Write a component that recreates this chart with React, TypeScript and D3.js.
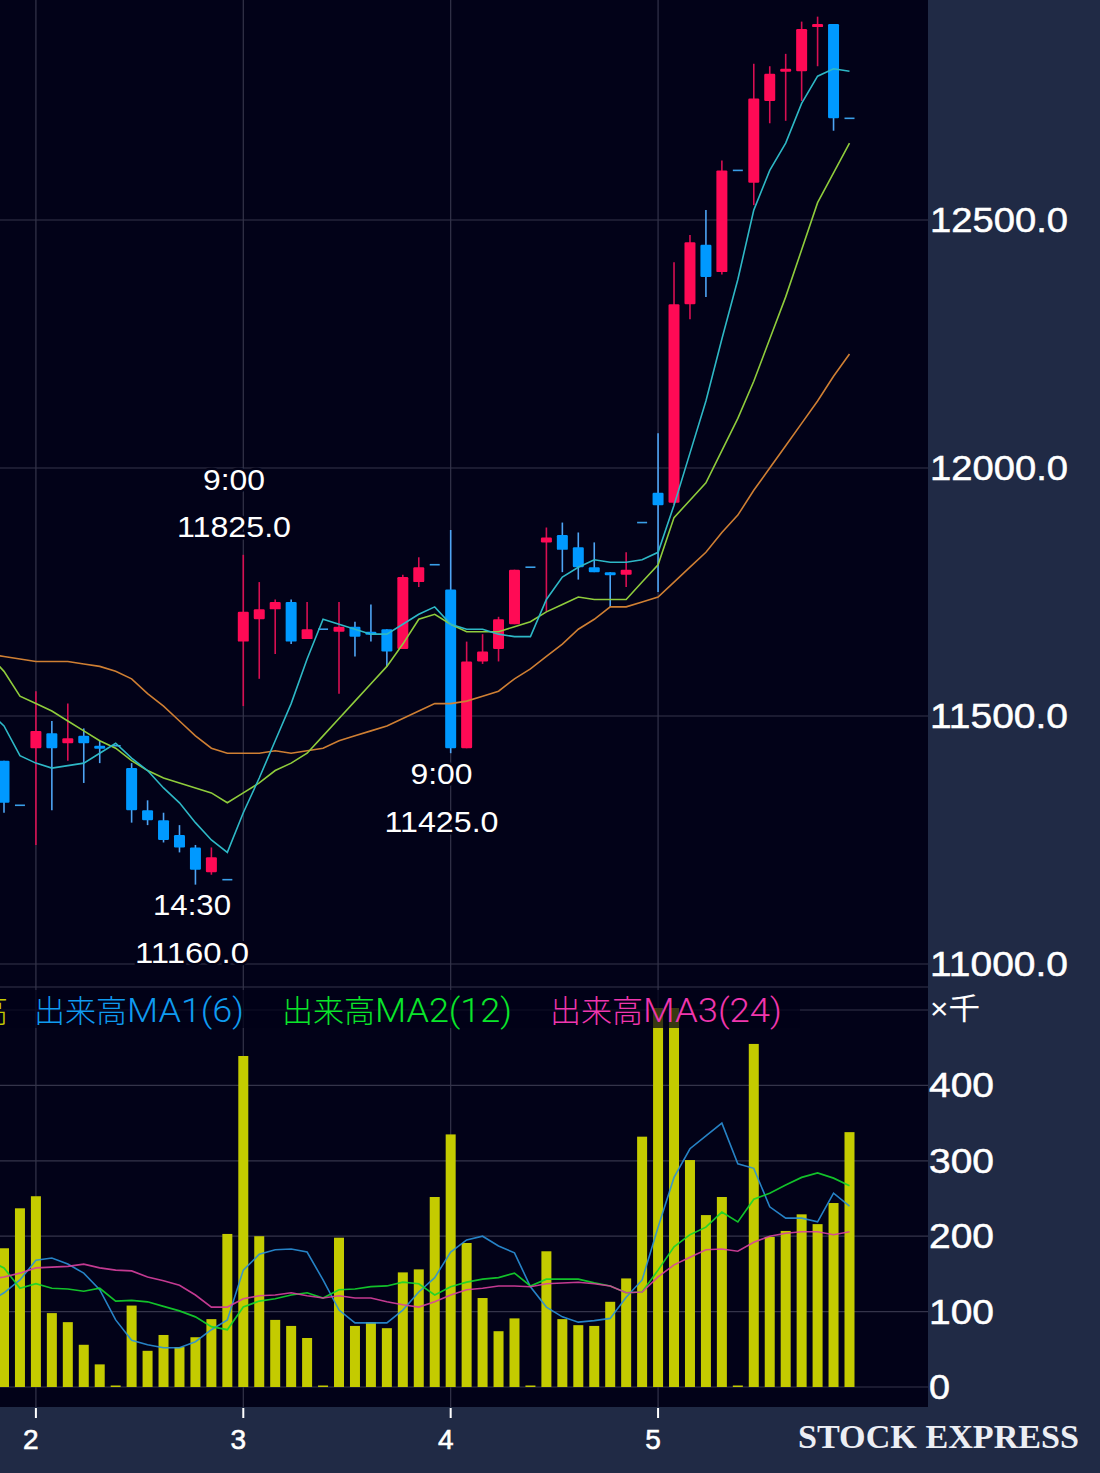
import React from "react";
import * as d3 from "d3";

const highs = [11410,11320,11550,11490,11525,11475,11450,11440,11405,11330,11305,11280,11240,11235,11170,11825,11770,11735,11735,11730,11675,11730,11690,11725,11675,11785,11820,11805,11875,11650,11665,11700,11795,11800,11880,11890,11870,11850,11790,11830,11890,12070,12415,12470,12520,12620,12600,12815,12810,12835,12900,12910,12895,12705];
const opens = [11410,11320,11435,11465,11445,11460,11440,11440,11395,11310,11290,11260,11235,11185,11170,11650,11695,11715,11730,11655,11675,11670,11680,11670,11675,11635,11770,11805,11755,11435,11610,11635,11685,11800,11850,11865,11840,11800,11790,11785,11890,11950,11930,12330,12450,12395,12600,12575,12740,12800,12800,12890,12895,12705];
const closes = [11325,11320,11470,11435,11455,11445,11435,11440,11310,11290,11250,11235,11190,11215,11170,11710,11715,11730,11650,11675,11675,11680,11660,11665,11630,11780,11800,11805,11435,11610,11630,11695,11795,11800,11860,11835,11800,11790,11785,11795,11890,11925,12330,12455,12385,12600,12600,12745,12795,12805,12885,12895,12705,12705];
const lows = [11305,11320,11240,11310,11410,11365,11405,11440,11285,11280,11245,11225,11160,11180,11170,11520,11575,11625,11645,11655,11675,11545,11620,11650,11600,11635,11760,11805,11425,11435,11605,11610,11685,11800,11710,11790,11775,11790,11720,11760,11890,11750,11925,12300,12345,12390,12600,12530,12695,12700,12740,12810,12680,12705];

// Moving averages start one session before the first visible candle (index -1).
const priceMA1 = [11510,11480,11420,11405,11395,11400,11405,11425,11445,11415,11390,11355,11325,11285,11250,11225,11305,11375,11450,11525,11615,11695,11685,11675,11665,11665,11685,11705,11720,11685,11675,11675,11665,11660,11660,11735,11780,11800,11815,11810,11810,11815,11830,11925,12030,12135,12260,12380,12520,12600,12655,12735,12790,12805,12800];
const priceMA2 = [11625,11590,11540,11525,11510,11490,11470,11450,11435,11410,11390,11375,11365,11355,11345,11325,11345,11365,11390,11405,11425,11460,11495,11530,11565,11600,11645,11695,11705,11685,11670,11670,11670,11680,11690,11710,11725,11740,11735,11735,11735,11770,11805,11900,11935,11970,12035,12100,12175,12260,12345,12440,12535,12595,12655];
const priceMA3 = [11625,11620,11615,11610,11610,11610,11605,11600,11590,11575,11545,11520,11490,11460,11435,11425,11425,11425,11430,11425,11430,11435,11450,11460,11470,11480,11495,11510,11525,11525,11530,11540,11550,11575,11595,11620,11645,11675,11695,11720,11720,11730,11740,11770,11800,11830,11870,11905,11955,12000,12045,12090,12135,12185,12230];

const volumes = [184,237,253,98,86,56,30,2,108,48,69,53,66,90,203,439,200,89,81,65,2,198,81,86,78,152,156,252,335,191,118,74,91,2,180,90,82,81,113,144,332,520,540,301,228,252,2,455,199,207,229,216,244,338];
const volMA1 = [112,125,142,168,171,163,151,129,89,62,56,52,52,60,76,89,155,176,182,183,179,142,102,85,85,85,102,126,145,179,195,200,187,178,133,106,93,86,88,91,119,142,212,278,316,333,350,296,290,239,224,224,219,257,240];
const volMA2 = [168,158,131,137,131,130,127,131,114,115,113,107,101,93,80,76,106,114,117,122,125,118,129,130,133,134,139,137,122,133,139,143,145,151,134,143,143,143,138,134,125,126,155,186,202,212,232,219,249,257,268,278,284,277,267];
const volMA3 = [142,146,151,158,159,160,163,158,155,154,146,141,135,122,106,106,117,121,122,125,121,118,121,118,118,113,109,106,113,122,129,131,134,134,133,137,138,139,137,134,125,126,146,162,172,182,183,180,192,200,204,206,206,202,206];

const priceTicks = [11000, 11500, 12000, 12500];
const volumeTicks = [0, 100, 200, 300, 400, 500];
const volumeTickLabels = [0, 100, 200, 300, 400];
const dateTicks = [
  { index: 2, label: "2" },
  { index: 15, label: "3" },
  { index: 28, label: "4" },
  { index: 41, label: "5" },
];
const priceNotes = [
  { time: "9:00", value: "11825.0", cx: 234, tw: 62, y1: 490, y2: 537 },
  { time: "9:00", value: "11425.0", cx: 441.5, tw: 62, y1: 784, y2: 832 },
  { time: "14:30", value: "11160.0", cx: 192, tw: 78, y1: 915, y2: 963 },
];
const legendItems = [
  { name: "出来高", ma: "MA1(6)", x: 34, w: 117, color: "#0f9bf0" },
  { name: "出来高", ma: "MA2(12)", x: 282, w: 137, color: "#0ae62a" },
  { name: "出来高", ma: "MA3(24)", x: 550, w: 139, color: "#f036ae" },
];

const W = 1100, H = 1473, PLOT_R = 928, PLOT_B = 1407;
const SANS = '"Liberation Sans", Arimo, sans-serif';
const CJK = '"Noto Sans CJK JP", sans-serif';

const x = d3.scaleLinear().domain([0, 53]).range([4, 849.5]);
const yP = d3.scaleLinear().domain([11000, 12500]).range([964, 220]);
const yV = d3.scaleLinear().domain([0, 500]).range([1387, 1010]);
const priceLine = d3.line<number>().x((_, i) => x(i - 1)).y((v) => yP(v));
const volLine = d3.line<number>().x((_, i) => x(i - 1)).y((v) => yV(v));

const GRID = "#34344a";
const UP = "#ff0a55", DOWN = "#0099ff";

function AxisText(p: { x: number; y: number; w: number; children: React.ReactNode }) {
  return (
    <text x={p.x} y={p.y} textLength={p.w} lengthAdjust="spacingAndGlyphs" fontFamily={SANS} fontSize={35}
      fill="#ffffff" stroke="#ffffff" strokeWidth={0.5}>{p.children}</text>
  );
}

export default function App() {
  return (
    <svg width={W} height={H} viewBox={`0 0 ${W} ${H}`} style={{ position: "absolute", left: 0, top: 0, display: "block" }}>
      <defs>
        <clipPath id="pricePane"><rect x={0} y={0} width={PLOT_R} height={987} /></clipPath>
        <clipPath id="volPane"><rect x={0} y={1008} width={PLOT_R} height={PLOT_B - 1008} /></clipPath>
      </defs>
      <rect width={W} height={H} fill="#202a45" />
      <rect width={PLOT_R} height={PLOT_B} fill="#020218" />

      {priceTicks.map((t) => <line key={t} x1={0} x2={PLOT_R} y1={yP(t)} y2={yP(t)} stroke={GRID} strokeWidth={1.2} />)}
      {volumeTicks.map((t) => <line key={t} x1={0} x2={PLOT_R} y1={yV(t)} y2={yV(t)} stroke={GRID} strokeWidth={1.2} />)}
      <line x1={0} x2={PLOT_R} y1={987} y2={987} stroke={GRID} strokeWidth={1.2} />
      {dateTicks.map((d) => <line key={d.index} x1={x(d.index)} x2={x(d.index)} y1={0} y2={PLOT_B} stroke={GRID} strokeWidth={1.2} />)}

      <g clipPath="url(#pricePane)">
        {opens.map((o, i) => {
          const c = closes[i];
          const col = c > o ? UP : DOWN;
          const top = yP(Math.max(o, c));
          const bot = yP(Math.min(o, c));
          if (o === c && highs[i] === lows[i]) {
            return <line key={i} x1={x(i) - 5} x2={x(i) + 5} y1={top} y2={top} stroke="#3a9fe8" strokeWidth={1.6} />;
          }
          return (
            <g key={i}>
              <line x1={x(i)} x2={x(i)} y1={yP(highs[i])} y2={yP(lows[i])} stroke={c > o ? "#d80f52" : "#4ea4f4"} strokeWidth={1.6} />
              <rect x={x(i) - 5.5} y={top} width={11} height={Math.max(bot - top, 3)} rx={1.2} fill={col} />
            </g>
          );
        })}
        <path d={priceLine(priceMA3) ?? ""} fill="none" stroke="#cf7f33" strokeWidth={1.6} />
        <path d={priceLine(priceMA2) ?? ""} fill="none" stroke="#8fcc3c" strokeWidth={1.6} />
        <path d={priceLine(priceMA1) ?? ""} fill="none" stroke="#2eb8c6" strokeWidth={1.6} />
      </g>

      <g clipPath="url(#volPane)">
        {volumes.map((v, i) => (
          <rect key={i} x={x(i) - 5} y={yV(v)} width={10} height={yV(0) - yV(v)} fill="#c4cb00" />
        ))}
        <path d={volLine(volMA1) ?? ""} fill="none" stroke="#2a90d8" strokeWidth={1.6} opacity={0.9} />
        <path d={volLine(volMA2) ?? ""} fill="none" stroke="#14d62c" strokeWidth={1.7} opacity={0.9} />
        <path d={volLine(volMA3) ?? ""} fill="none" stroke="#d8409e" strokeWidth={1.6} opacity={0.9} />
      </g>

      <rect x={0} y={990} width={800} height={38} fill="#020218" opacity={0.72} />
      <text x={8} y={1022} textAnchor="end" fontFamily={CJK} fontWeight={300} fontSize={31} fill="#c4cb00">出来高</text>
      {legendItems.map((l) => (
        <text key={l.ma} x={l.x} y={1022} fontFamily={CJK} fontWeight={300} fontSize={31} fill={l.color}>
          <tspan>{l.name}</tspan>
          <tspan x={l.x + 93} fontFamily="Roboto, sans-serif" fontSize={34} textLength={l.w} lengthAdjust="spacingAndGlyphs">{l.ma}</tspan>
        </text>
      ))}

      {priceNotes.map((n) => (
        <g key={n.value} fontFamily={SANS} fontSize={30} fill="#ffffff" textAnchor="middle" stroke="#020218" strokeWidth={5} paintOrder="stroke">
          <text x={n.cx} y={n.y1} textLength={n.tw} lengthAdjust="spacingAndGlyphs">{n.time}</text>
          <text x={n.cx} y={n.y2} textLength={114} lengthAdjust="spacingAndGlyphs">{n.value}</text>
        </g>
      ))}

      {priceTicks.map((t) => <AxisText key={t} x={930} y={yP(t) + 11.5} w={138}>{d3.format(".1f")(t)}</AxisText>)}
      <text x={930} y={1019} fontFamily={'"Liberation Sans", "Noto Sans CJK JP"'} fontSize={30} fill="#ffffff" textLength={50} lengthAdjust="spacingAndGlyphs">×千</text>
      {volumeTickLabels.map((t) => (
        <AxisText key={t} x={929} y={yV(t) + 12} w={t === 0 ? 21 : 65}>{t}</AxisText>
      ))}

      {dateTicks.map((d) => (
        <g key={d.index}>
          <line x1={x(d.index)} x2={x(d.index)} y1={PLOT_B + 1} y2={PLOT_B + 11} stroke="#ffffff" strokeWidth={2} />
          <text x={x(d.index) - 5} y={1449} textAnchor="middle" fontFamily={SANS} fontSize={28} fill="#ffffff" stroke="#ffffff" strokeWidth={0.6}>{d.label}</text>
        </g>
      ))}

      <text x={798} y={1448} textLength={281} lengthAdjust="spacingAndGlyphs" fontFamily='"Liberation Serif", serif' fontWeight={700} fontSize={34} fill="#eceef4">STOCK EXPRESS</text>
    </svg>
  );
}
